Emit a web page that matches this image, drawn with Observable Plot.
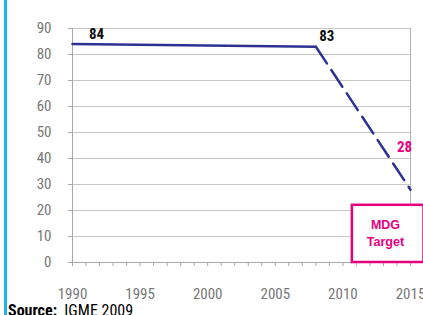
<!DOCTYPE html>
<html><head><meta charset="utf-8">
<script src="https://cdn.jsdelivr.net/npm/d3@7"></script>
<script src="https://cdn.jsdelivr.net/npm/@observablehq/plot@0.6"></script>
<style>
body{margin:0;background:#fff;}
#wrap{position:relative;width:423px;height:315px;overflow:hidden;background:#fff;}
#bar{position:absolute;left:4px;top:0;width:3px;height:315px;background:#1db3ee;}
#src{position:absolute;left:8px;top:303px;font-size:16px;line-height:16px;font-family:"Roboto Condensed",sans-serif;color:#000;white-space:nowrap;}
svg{display:block;}
</style></head><body>
<div id="wrap"><div id="bar"></div><div id="chart"></div><div id="src"><b>Source:</b>&nbsp; IGME 2009</div></div>
<script>
// Data
const solidYears = [1990, 2008];
const solidValues = [84, 83];
const targetYears = [2008, 2015];
const targetValues = [83, 28];
const yTicks = [0, 10, 20, 30, 40, 50, 60, 70, 80, 90];
const xLabelYears = [1990, 1995, 2000, 2005, 2010, 2015];
const targetBox = {label: ["MDG", "Target"], from: 2010.7, to: 2016, top: 22};

const solid = solidYears.map((y, i) => ({year: y, value: solidValues[i]}));
const dashed = targetYears.map((y, i) => ({year: y, value: targetValues[i]}));
const minorTicks = d3.range(1990, 2016);

const pink = "#e6007e";
const navy = "#2e3192";
const cond = '"Roboto Condensed",sans-serif';
const arial = '"Liberation Sans",Arial,sans-serif';

const chart = Plot.plot({
  width: 423, height: 300,
  marginLeft: 72, marginRight: 13, marginTop: 28, marginBottom: 38,
  x: {domain: [1990, 2015]},
  y: {domain: [0, 90]},
  style: {fontFamily: cond, background: "transparent", overflow: "visible"},
  marks: [
    Plot.gridY(yTicks, {stroke: "#c6c6c6", strokeOpacity: 1}),
    Plot.ruleX([1990], {y1: 0, y2: 90, stroke: "#a8a8a8"}),
    Plot.ruleX([2015], {y1: 0, y2: 90, stroke: "#b4b4b4"}),
    Plot.ruleY([0], {stroke: "#a8a8a8"}),
    Plot.axisY(yTicks, {tickSize: 4, tickPadding: 17, fontSize: 15, fill: "#777", stroke: "#a8a8a8"}),
    Plot.axisX(minorTicks, {tickSize: 4, tickFormat: () => "", stroke: "#a8a8a8"}),
    Plot.axisX(xLabelYears, {tickSize: 0, tickPadding: 26, fontSize: 15, fill: "#777", tickFormat: d => String(d)}),
    Plot.rect([targetBox], {x1: "from", x2: "to", y1: 0, y2: "top", fill: "white", stroke: pink, strokeWidth: 2.5}),
    Plot.text([targetBox], {x: d => (d.from + 2015.6) / 2, y: d => d.top / 2, text: d => d.label[0], dy: -9, fill: pink, fontWeight: "bold", fontSize: 12.5, fontFamily: arial}),
    Plot.text([targetBox], {x: d => (d.from + 2015.6) / 2, y: d => d.top / 2, text: d => d.label[1], dy: 8, fill: pink, fontWeight: "bold", fontSize: 12.5, fontFamily: arial}),
    Plot.line(solid, {x: "year", y: "value", stroke: navy, strokeWidth: 2.5}),
    Plot.line(dashed, {x: "year", y: "value", stroke: navy, strokeWidth: 2.5, strokeDasharray: "20,8"}),
    Plot.text([solid[0]], {x: "year", y: "value", text: d => String(d.value), dx: 24, dy: -10, fill: "#111", fontWeight: "bold", fontSize: 15}),
    Plot.text([solid[1]], {x: "year", y: "value", text: d => String(d.value), dx: 11, dy: -11, fill: "#111", fontWeight: "bold", fontSize: 15}),
    Plot.text([dashed[1]], {x: "year", y: "value", text: d => String(d.value), dx: -6, dy: -43, fill: pink, fontWeight: "bold", fontSize: 15})
  ]
});
document.getElementById("chart").appendChild(chart);
</script>
</body></html>
